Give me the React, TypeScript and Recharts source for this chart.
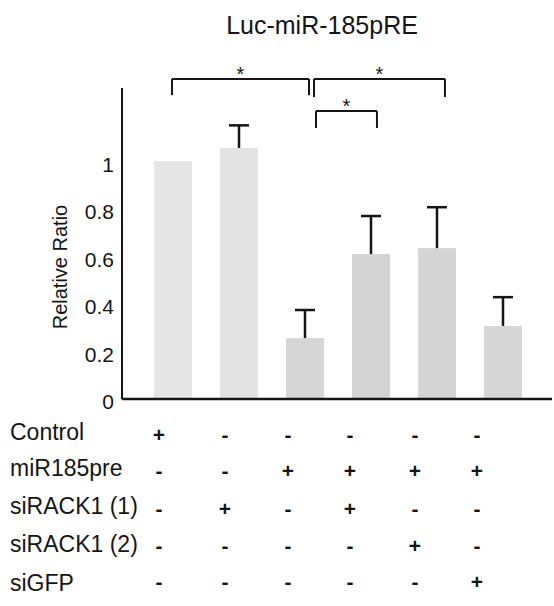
import React from 'react';
import { ComposedChart, Bar, XAxis, YAxis, ReferenceLine, Cell } from 'recharts';

// bar data (relative ratio, upper error only)
const categories = ['g1', 'g2', 'g3', 'g4', 'g5', 'g6'];
const positions = [1, 2, 3, 4, 5, 6];
const values = [1.0, 1.055, 0.256, 0.609, 0.634, 0.307];
const errors = [0, 0.095, 0.118, 0.16, 0.172, 0.121];
const barColors = ['#e6e6e6', '#e3e3e3', '#d6d6d6', '#d4d4d4', '#d5d5d5', '#d7d7d7'];

// treatment table under the axis
const rowLabels = ['Control', 'miR185pre', 'siRACK1 (1)', 'siRACK1 (2)', 'siGFP'];
const controlRow = ['+', '-', '-', '-', '-', '-'];
const mirRow = ['-', '-', '+', '+', '+', '+'];
const rack1Row = ['-', '+', '-', '+', '-', '-'];
const rack2Row = ['-', '-', '-', '-', '+', '-'];
const gfpRow = ['-', '-', '-', '-', '-', '+'];
const tableRows = [controlRow, mirRow, rack1Row, rack2Row, gfpRow];

// significance brackets (x in bar-index units, y in ratio units)
const bracketFrom = [0.985, 3.136, 3.166];
const bracketTo = [3.06, 5.12, 4.09];
const bracketTop = [1.345, 1.345, 1.21];
const bracketLeg = [1.277, 1.269, 1.139];

const yTicks = [0, 0.2, 0.4, 0.6, 0.8, 1];

const data = categories.map((name, i) => ({ name, pos: positions[i], value: values[i], err: errors[i] }));

const font = '"Liberation Sans", Arial, sans-serif';
const ink = '#151515';

// table columns sit a little left of the bar centres
const colShift = [-14, -14, -17, -21, -22, -26];
const rowOffset = [33, 69, 107, 144, 180];
const labelOffset = [33, 69, 107, 145, 184];

const BarWithError = (props: any) => {
  const { x, y, width, height, fill, payload } = props;
  const cx = x + width / 2;
  const errPx = payload.value ? (height / payload.value) * payload.err : 0;
  return (
    <g>
      <rect x={x} y={y} width={width} height={height} fill={fill} />
      {errPx > 0 && (
        <>
          <line x1={cx} y1={y} x2={cx} y2={y - errPx} stroke={ink} strokeWidth={2.5} />
          <line x1={cx - 10} y1={y - errPx} x2={cx + 10} y2={y - errPx} stroke={ink} strokeWidth={2.5} />
        </>
      )}
    </g>
  );
};

const TableTick = (props: any) => {
  const { x, y, index } = props;
  const cx = x + colShift[index];
  return (
    <g>
      {tableRows.map((row, r) => (
        <text
          key={r}
          x={cx}
          y={y + rowOffset[r]}
          textAnchor="middle"
          dominantBaseline="central"
          fontFamily={font}
          fontSize={21}
          fontWeight="bold"
          fill={ink}
        >
          {row[index]}
        </text>
      ))}
    </g>
  );
};

export default function App() {
  return (
    <div style={{ position: 'absolute', left: 0, top: 0, width: 554, height: 606, background: '#fff', fontFamily: font }}>
      <div
        style={{
          position: 'absolute',
          left: 172,
          width: 300,
          top: 11,
          lineHeight: '28px',
          textAlign: 'center',
          fontSize: 25,
          color: ink,
        }}
      >
        Luc-miR-185pRE
      </div>
      <div
        style={{
          position: 'absolute',
          left: 60,
          top: 267,
          transform: 'translate(-50%, -50%) rotate(-90deg)',
          whiteSpace: 'nowrap',
          fontSize: 20,
          color: ink,
        }}
      >
        Relative Ratio
      </div>
      {rowLabels.map((label, r) => (
        <div
          key={label}
          style={{
            position: 'absolute',
            left: 10,
            top: 399 + labelOffset[r] - 14,
            lineHeight: '28px',
            fontSize: 23,
            color: ink,
            whiteSpace: 'nowrap',
          }}
        >
          {label}
        </div>
      ))}
      <ComposedChart width={554} height={606} data={data} margin={{ top: 88, right: 2, left: 0, bottom: 7 }}>
        <XAxis
          dataKey="name"
          height={200}
          interval={0}
          padding={{ left: 18, right: 16 }}
          axisLine={{ stroke: ink, strokeWidth: 2.5 }}
          tickLine={false}
          tickSize={0}
          tick={<TableTick />}
        />
        <XAxis xAxisId="n" dataKey="pos" type="number" domain={[0.227, 6.742]} allowDataOverflow hide />
        <YAxis
          width={122}
          domain={[0, 1.307]}
          allowDataOverflow
          ticks={yTicks}
          axisLine={{ stroke: ink, strokeWidth: 2 }}
          tickLine={false}
          tickSize={0}
          tickMargin={8}
          tick={{ fontSize: 21, fill: ink, fontFamily: font, dy: 3 }}
        />
        <Bar dataKey="value" barSize={38} shape={<BarWithError />} isAnimationActive={false}>
          {data.map((d, i) => (
            <Cell key={d.name} fill={barColors[i]} />
          ))}
        </Bar>
        {bracketFrom.map((from, i) => (
          <ReferenceLine
            key={`top${i}`}
            xAxisId="n"
            ifOverflow="visible"
            segment={[
              { x: from, y: bracketTop[i] },
              { x: bracketTo[i], y: bracketTop[i] },
            ]}
            stroke={ink}
            strokeWidth={2}
            label={{ value: '*', position: 'top', fontSize: 20, fill: ink, fontFamily: font, offset: -2 }}
          />
        ))}
        {bracketFrom.map((from, i) => (
          <ReferenceLine
            key={`l${i}`}
            xAxisId="n"
            ifOverflow="visible"
            segment={[
              { x: from, y: bracketTop[i] },
              { x: from, y: bracketLeg[i] },
            ]}
            stroke={ink}
            strokeWidth={2}
          />
        ))}
        {bracketFrom.map((from, i) => (
          <ReferenceLine
            key={`r${i}`}
            xAxisId="n"
            ifOverflow="visible"
            segment={[
              { x: bracketTo[i], y: bracketTop[i] },
              { x: bracketTo[i], y: bracketLeg[i] },
            ]}
            stroke={ink}
            strokeWidth={2}
          />
        ))}
      </ComposedChart>
    </div>
  );
}
